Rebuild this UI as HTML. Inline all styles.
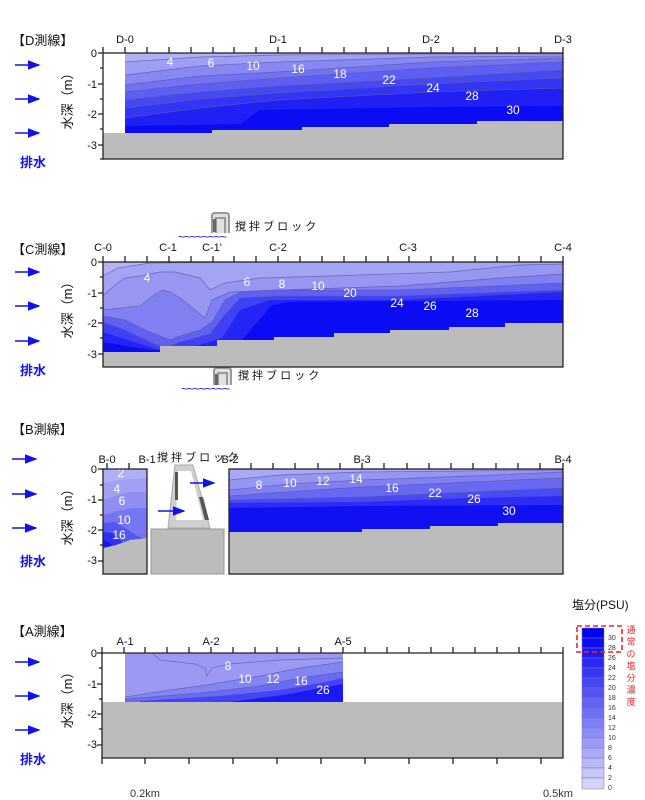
<!DOCTYPE html>
<html><head><meta charset="utf-8"><style>
html,body{margin:0;padding:0;background:#fff;width:645px;height:800px;overflow:hidden}
svg{display:block}
text{font-family:"Liberation Sans","Noto Sans CJK JP",sans-serif}
.t{font-size:11px;fill:#111}
.w{font-size:12px;fill:#fff}
.lb{font-size:13px;fill:#111}
.bl{font-size:13px;fill:#1515e0;font-weight:bold}
.cl{fill:none;stroke:#5a5aa8;stroke-width:0.7;opacity:.8}
.ax{stroke:#222;stroke-width:1.3;fill:none}
</style></head><body>
<svg width="645" height="800" viewBox="0 0 645 800">
<defs>
<marker id="ah" markerWidth="8" markerHeight="6" refX="7" refY="3" orient="auto"><path d="M0,0L8,3L0,6z" fill="#1010f0"/></marker>
<g id="arr"><line x1="0" y1="0" x2="24" y2="0" stroke="#1010f0" stroke-width="1.6" marker-end="url(#ah)"/></g>
</defs>

<!-- ================= D ================= -->
<text class="lb" x="12" y="45">【D測線】</text>
<use href="#arr" x="15" y="65"/><use href="#arr" x="15" y="99"/><use href="#arr" x="15" y="133"/>
<text class="bl" x="20" y="167">排水</text>
<text class="lb" transform="translate(72,98) rotate(-90)" text-anchor="middle">水深（m）</text>
<g class="t" text-anchor="end"><text x="97" y="57">0</text><text x="97" y="88">-1</text><text x="97" y="118">-2</text><text x="97" y="149">-3</text></g>
<g class="t" text-anchor="middle"><text x="125" y="43">D-0</text><text x="278" y="43">D-1</text><text x="431" y="43">D-2</text><text x="563" y="43">D-3</text></g>
<rect x="125" y="53" width="438" height="80" fill="#b0b0f5"/>
<path d="M125,62 L200,57 278,55 431,54 563,54 V133 H125Z" fill="#9e9ef3"/>
<path d="M125,75 L200,66 278,62 431,57 563,56 V133 H125Z" fill="#8888f2"/>
<path d="M125,85 L200,76 278,72 431,62 563,58 V133 H125Z" fill="#7272f2"/>
<path d="M125,92 L200,84 278,78 431,68 563,62 V133 H125Z" fill="#5e5ef3"/>
<path d="M125,100 L200,92 278,86 431,78 563,70 V133 H125Z" fill="#4848f3"/>
<path d="M125,108 L200,99 278,93 431,84 563,78 V133 H125Z" fill="#3434f4"/>
<path d="M125,118 L200,108 278,100 431,92 563,88 V133 H125Z" fill="#2020f5"/>
<path d="M125,126 L240,124 260,110 431,107 563,106 V133 H125Z" fill="#0c0cf4"/>
<g class="cl"><path d="M125,62 L200,57 278,55 431,54 563,54"/><path d="M125,75 L200,66 278,62 431,57 563,56"/><path d="M125,85 L200,76 278,72 431,62 563,58"/><path d="M125,92 L200,84 278,78 431,68 563,62"/><path d="M125,100 L200,92 278,86 431,78 563,70"/><path d="M125,108 L200,99 278,93 431,84 563,78"/><path d="M125,118 L200,108 278,100 431,92 563,88"/></g>
<path d="M103,133 H212 V130 H302 V127 H389 V124 H477 V121 H563 V159 H103Z" fill="#bcbcbc"/>
<g class="w" text-anchor="middle"><text x="170" y="66">4</text><text x="211" y="67">6</text><text x="253" y="70">10</text><text x="298" y="73">16</text><text x="340" y="78">18</text><text x="389" y="84">22</text><text x="433" y="92">24</text><text x="472" y="100">28</text><text x="513" y="114">30</text></g>
<rect x="103" y="53" width="460" height="106" class="ax"/>
<path id="tk" d="M103,53v-6M125,53v-6M147,53v-6M169,53v-6M191,53v-6M213,53v-6M234,53v-6M256,53v-6M278,53v-6M300,53v-6M322,53v-6M344,53v-6M366,53v-6M388,53v-6M409,53v-6M431,53v-6M453,53v-6M475,53v-6M497,53v-6M519,53v-6M541,53v-6M563,53v-6" class="ax"/>
<path d="M103,53h-5M103,68h-3M103,84h-5M103,99h-3M103,114h-5M103,129h-3M103,145h-5M103,159h-3" class="ax"/>

<!-- ================= C ================= -->
<path d="M212,233 V216 Q212,213 215,213 H226 Q229,213 229,216 V233 M216,233 V218 H225 V233" fill="#e0e0e0" stroke="#999" stroke-width="2"/>
<rect x="213" y="219" width="3" height="13" fill="#666"/>
<text class="t" x="235" y="230" font-size="10">撹 拌 ブ ロ ッ ク</text>
<text x="178" y="241" fill="#1515e0" font-size="12" letter-spacing="-1">~~~~~~~~</text>
<path d="M214,385 V371 Q214,368 217,368 H228 Q231,368 231,371 V385 M218,385 V373 H227 V385" fill="#e0e0e0" stroke="#999" stroke-width="2"/>
<rect x="215" y="374" width="3" height="11" fill="#666"/>
<text class="t" x="238" y="379" font-size="10">撹 拌 ブ ロ ッ ク</text>
<text x="181" y="393" fill="#1515e0" font-size="12" letter-spacing="-1">~~~~~~~~</text>
<text class="lb" x="12" y="254">【C測線】</text>
<use href="#arr" x="15" y="272"/><use href="#arr" x="15" y="306"/><use href="#arr" x="15" y="341"/>
<text class="bl" x="20" y="375">排水</text>
<text class="lb" transform="translate(72,307) rotate(-90)" text-anchor="middle">水深（m）</text>
<g class="t" text-anchor="end"><text x="97" y="266">0</text><text x="97" y="297">-1</text><text x="97" y="327">-2</text><text x="97" y="358">-3</text></g>
<g class="t" text-anchor="middle"><text x="103" y="251">C-0</text><text x="168" y="251">C-1</text><text x="212" y="251">C-1'</text><text x="278" y="251">C-2</text><text x="408" y="251">C-3</text><text x="563" y="251">C-4</text></g>
<rect x="103" y="262" width="460" height="90" fill="#b4b4f6"/>
<path d="M103,276 L118,268 150,263 260,262 563,262 V352 H103Z" fill="#a4a4f4"/>
<path d="M103,296 L115,285 125,278 140,276 160,272 175,272 200,278 210,290 225,283 260,278 330,276 450,272 520,265 563,264 V352 H103Z" fill="#9797f2"/>
<path d="M103,310 L140,306 150,298 162,290 170,292 180,298 195,310 205,318 212,300 230,292 278,290 400,286 500,278 563,274 V352 H103Z" fill="#8080f2"/>
<path d="M103,316 L125,320 145,330 160,336 170,340 180,336 200,330 212,322 225,300 240,292 278,290 400,290 563,283 V352 H103Z" fill="#6060f3"/>
<path d="M103,322 L125,330 150,342 165,348 180,342 210,334 222,318 240,298 278,296 400,296 563,290 V352 H103Z" fill="#4040f4"/>
<path d="M103,332 L140,344 160,350 200,345 222,338 240,310 270,300 400,300 563,292 V352 H103Z" fill="#2424f5"/>
<path d="M103,342 L150,350 190,350 240,342 272,305 290,302 563,300 V352 H103Z" fill="#0c0cf4"/>
<g class="cl"><path d="M103,276 L118,268 150,263 260,262 563,262"/><path d="M103,296 L115,285 125,278 140,276 160,272 175,272 200,278 210,290 225,283 260,278 330,276 450,272 520,265 563,264"/><path d="M103,310 L140,306 150,298 162,290 170,292 180,298 195,310 205,318 212,300 230,292 278,290 400,286 500,278 563,274"/><path d="M103,316 L125,320 145,330 160,336 170,340 180,336 200,330 212,322 225,300 240,292 278,290 400,290 563,283"/><path d="M103,322 L125,330 150,342 165,348 180,342 210,334 222,318 240,298 278,296 400,296 563,290"/></g>
<path d="M103,352 H160 V346 H217 V340 H274 V337 H334 V333 H390 V330 H449 V327 H505 V323 H563 V367 H103Z" fill="#bcbcbc"/>
<g class="w" text-anchor="middle"><text x="147" y="282">4</text><text x="247" y="286">6</text><text x="282" y="288">8</text><text x="318" y="290">10</text><text x="350" y="297">20</text><text x="397" y="307">24</text><text x="430" y="310">26</text><text x="472" y="317">28</text></g>
<rect x="103" y="262" width="460" height="105" class="ax"/>
<use href="#tk" y="209"/>
<path d="M103,262h-5M103,277h-3M103,293h-5M103,308h-3M103,323h-5M103,338h-3M103,354h-5" class="ax"/>

<!-- ================= B ================= -->
<text class="lb" x="12" y="434">【B測線】</text>
<use href="#arr" x="12" y="459"/><use href="#arr" x="12" y="494"/><use href="#arr" x="12" y="528"/>
<text class="bl" x="20" y="566">排水</text>
<text class="lb" transform="translate(72,514) rotate(-90)" text-anchor="middle">水深（m）</text>
<g class="t" text-anchor="end"><text x="97" y="473">0</text><text x="97" y="503">-1</text><text x="97" y="534">-2</text><text x="97" y="564">-3</text></g>
<g class="t" text-anchor="middle"><text x="107" y="463">B-0</text><text x="147" y="463">B-1</text><text x="230" y="463">B-2</text><text x="362" y="463">B-3</text><text x="563" y="463">B-4</text></g>
<text class="t" x="157" y="461" font-size="9">撹 拌 ブ ロ ッ ク</text>
<!-- left box -->
<rect x="103" y="469" width="44" height="80" fill="#b0b0f6"/>
<path d="M103,483 L120,480 147,478 V549 H103Z" fill="#a0a0f4"/>
<path d="M103,500 L115,496 128,492 147,492 V549 H103Z" fill="#8e8ef3"/>
<path d="M103,515 L118,511 132,508 147,508 V549 H103Z" fill="#7676f3"/>
<path d="M103,523 L115,522 125,528 138,536 147,540 V549 H103Z" fill="#5656f3"/>
<path d="M103,532 L112,533 120,540 126,546 V549 H103Z" fill="#3030f4"/>
<path d="M103,540 L110,543 114,549 H103Z" fill="#1515f2"/>
<path d="M103,548 L116,545 130,540 147,538 V574 H103Z" fill="#bcbcbc"/>
<g class="w" text-anchor="middle" font-size="11"><text x="121" y="477">2</text><text x="117" y="493">4</text><text x="122" y="505">6</text><text x="124" y="524">10</text><text x="119" y="539">16</text></g>
<rect x="103" y="469" width="44" height="105" class="ax"/>
<path d="M103,469h-5M103,485h-3M103,500h-5M103,515h-3M103,530h-5M103,545h-3M103,561h-5M107,469v-6M129,469v-6" class="ax"/>
<!-- middle block -->
<rect x="151" y="529" width="73" height="45" fill="#bcbcbc" stroke="#999" stroke-width="1"/>
<path d="M175,465 H193 L210,528 H168Z" fill="#cfcfcf" stroke="#aaa" stroke-width="1"/>
<path d="M178,471 H191 L203,520 H176Z" fill="#fff"/>
<rect x="175" y="472" width="3" height="28" fill="#555"/>
<path d="M199,497 L203,497 209,520 205,520Z" fill="#555"/>
<line x1="158" y1="511" x2="184" y2="511" stroke="#1010f0" stroke-width="1.6" marker-end="url(#ah)"/>
<line x1="190" y1="483" x2="214" y2="483" stroke="#1010f0" stroke-width="1.6" marker-end="url(#ah)"/>
<!-- right box -->
<rect x="229" y="469" width="334" height="63" fill="#a8a8f4"/>
<path d="M229,480 L280,475 362,472 563,470 V532 H229Z" fill="#9595f2"/>
<path d="M229,490 L290,484 362,480 470,476 563,472 V532 H229Z" fill="#8080f2"/>
<path d="M229,496 L300,491 362,487 470,482 563,478 V532 H229Z" fill="#6868f3"/>
<path d="M229,500 L362,497 470,492 563,488 V532 H229Z" fill="#4a4af3"/>
<path d="M229,503 L362,502 470,498 563,496 V532 H229Z" fill="#2c2cf4"/>
<path d="M229,508 L300,507 362,506 563,505 V532 H229Z" fill="#1010f3"/>
<g class="cl"><path d="M229,480 L280,475 362,472 563,470"/><path d="M229,490 L290,484 362,480 470,476 563,472"/><path d="M229,496 L300,491 362,487 470,482 563,478"/><path d="M229,500 L362,497 470,492 563,488"/></g>
<path d="M229,532 H362 V529 H430 V526 H498 V523 H563 V574 H229Z" fill="#bcbcbc"/>
<g class="w" text-anchor="middle"><text x="259" y="489">8</text><text x="290" y="487">10</text><text x="323" y="485">12</text><text x="356" y="483">14</text><text x="392" y="492">16</text><text x="435" y="497">22</text><text x="474" y="503">26</text><text x="509" y="515">30</text></g>
<rect x="229" y="469" width="334" height="105" class="ax"/>
<path d="M251,469v-6M273,469v-6M295,469v-6M318,469v-6M340,469v-6M362,469v-6M384,469v-6M407,469v-6M429,469v-6M451,469v-6M473,469v-6M496,469v-6M518,469v-6M540,469v-6M563,469v-6" class="ax"/>

<!-- ================= A ================= -->
<text class="lb" x="12" y="636">【A測線】</text>
<use href="#arr" x="15" y="662"/><use href="#arr" x="15" y="696"/><use href="#arr" x="15" y="730"/>
<text class="bl" x="20" y="764">排水</text>
<text class="lb" transform="translate(72,697) rotate(-90)" text-anchor="middle">水深（m）</text>
<g class="t" text-anchor="end"><text x="97" y="657">0</text><text x="97" y="688">-1</text><text x="97" y="718">-2</text><text x="97" y="748">-3</text></g>
<g class="t" text-anchor="middle"><text x="125" y="645">A-1</text><text x="211" y="645">A-2</text><text x="343" y="645">A-5</text></g>
<rect x="125" y="653" width="218" height="49" fill="#9a9af3"/>
<path d="M125,697 L170,690 200,686 260,676 300,668 343,662 V702 H125Z" fill="#8585f2"/>
<path d="M125,699 L200,693 260,686 300,678 343,672 V702 H125Z" fill="#6a6af3"/>
<path d="M140,701 L220,696 280,690 320,683 343,678 V702 H140Z" fill="#4444f4"/>
<path d="M230,702 L290,694 320,688 343,684 V702Z" fill="#1a1af5"/>
<g class="cl"><path d="M152,653 L160,660 195,664 205,668 207,676 212,668 230,664 280,660 343,658"/><path d="M125,697 L170,690 200,686 260,676 300,668 343,662"/><path d="M125,699 L200,693 260,686 300,678 343,672"/></g>
<path d="M102,702 H563 V758 H102Z" fill="#bcbcbc"/>
<g class="w" text-anchor="middle"><text x="228" y="670">8</text><text x="245" y="683">10</text><text x="273" y="683">12</text><text x="301" y="685">16</text><text x="323" y="694">26</text></g>
<path d="M102,653 H563 V758 H102 Z" class="ax"/>
<path d="M102,653v-6M124,653v-6M145,653v-6M167,653v-6M189,653v-6M211,653v-6M233,653v-6M255,653v-6M277,653v-6M299,653v-6M321,653v-6M343,653v-6M365,653v-6M387,653v-6M409,653v-6M431,653v-6M453,653v-6M475,653v-6M497,653v-6M519,653v-6M541,653v-6M563,653v-6" class="ax"/>
<path d="M102,758v6M145,758v6M189,758v6M233,758v6M277,758v6M321,758v6M365,758v6M409,758v6M453,758v6M497,758v6M541,758v6" class="ax"/>
<path d="M102,653h-5M102,668h-3M102,684h-5M102,699h-3M102,714h-5M102,729h-3M102,745h-5" class="ax"/>
<text x="130" y="797" font-family="Liberation Mono,monospace" font-size="11" fill="#333">0.2km</text>
<text x="543" y="797" font-family="Liberation Mono,monospace" font-size="11" fill="#333">0.5km</text>

<!-- ================= Legend ================= -->
<text x="572" y="609" font-size="12" fill="#111">塩分(PSU)</text>
<g stroke="#7777bb" stroke-width="0.5">
<rect x="582" y="628" width="22" height="10" fill="#0000f0"/>
<rect x="582" y="638" width="22" height="10" fill="#0c0cf0"/>
<rect x="582" y="648" width="22" height="10" fill="#1a1af2"/>
<rect x="582" y="658" width="22" height="10" fill="#2828f2"/>
<rect x="582" y="668" width="22" height="10" fill="#3636f3"/>
<rect x="582" y="678" width="22" height="10" fill="#4545f3"/>
<rect x="582" y="688" width="22" height="10" fill="#5454f4"/>
<rect x="582" y="698" width="22" height="10" fill="#6262f4"/>
<rect x="582" y="708" width="22" height="10" fill="#7070f4"/>
<rect x="582" y="718" width="22" height="10" fill="#7f7ff5"/>
<rect x="582" y="728" width="22" height="10" fill="#8d8df6"/>
<rect x="582" y="738" width="22" height="10" fill="#9c9cf6"/>
<rect x="582" y="748" width="22" height="10" fill="#ababf7"/>
<rect x="582" y="758" width="22" height="10" fill="#b9b9f8"/>
<rect x="582" y="768" width="22" height="10" fill="#c7c7f9"/>
<rect x="582" y="778" width="22" height="11" fill="#d4d4fa"/>
</g>
<g font-family="Liberation Mono,monospace" font-size="7" fill="#333">
<text x="608" y="640">30</text><text x="608" y="650">28</text><text x="608" y="660">26</text><text x="608" y="670">24</text><text x="608" y="680">22</text><text x="608" y="690">20</text><text x="608" y="700">18</text><text x="608" y="710">16</text><text x="608" y="720">14</text><text x="608" y="730">12</text><text x="608" y="740">10</text><text x="608" y="750">8</text><text x="608" y="760">6</text><text x="608" y="770">4</text><text x="608" y="780">2</text><text x="608" y="790">0</text>
</g>
<rect x="577" y="626" width="45" height="26" fill="none" stroke="#ee2222" stroke-width="1.6" stroke-dasharray="5,3"/>
<g fill="#ee2222" font-size="9" text-anchor="middle"><text x="631" y="633">通</text><text x="631" y="645">常</text><text x="631" y="657">の</text><text x="631" y="669">塩</text><text x="631" y="681">分</text><text x="631" y="693">濃</text><text x="631" y="705">度</text></g>
</svg>
</body></html>
